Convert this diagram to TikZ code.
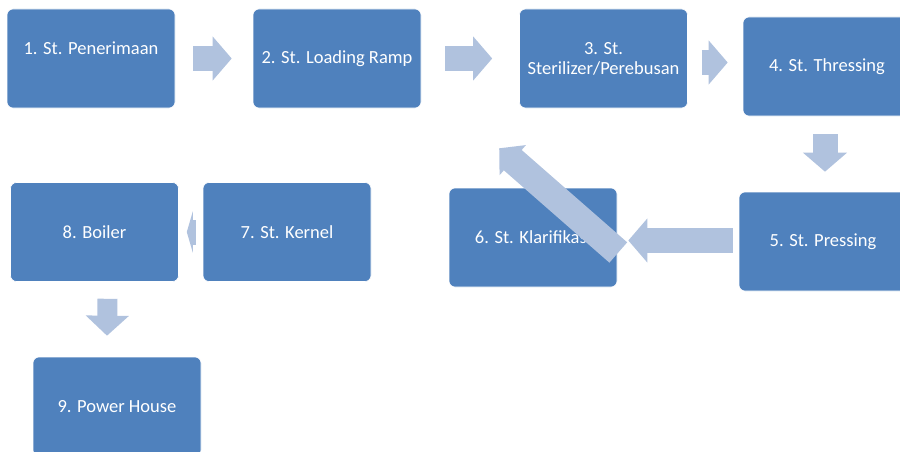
\documentclass[tikz,border=0pt]{standalone}
\usepackage{fontspec}
\setmainfont{Carlito}
\usetikzlibrary{arrows.meta}
\definecolor{boxblue}{RGB}{79,129,189}
\definecolor{arrowblue}{RGB}{176,194,222}

\begin{document}
\begin{tikzpicture}[x=1pt, y=-1pt]
    \tikzstyle{box}=[rectangle, rounded corners=6pt, fill=boxblue, draw=white, line width=0.6pt, minimum width=168pt, minimum height=99pt, align=center, text=white, font=\fontsize{18.5}{20}\selectfont, inner sep=2pt]
    \tikzstyle{flow}=[arrowblue, line width=25pt, -{Triangle[width=43pt, length=19pt]}]

    \useasboundingbox (0,0) rectangle (900,452);

    \node[box] (b1) at (91,58.5) {1. St. Penerimaan\\\mbox{}};
    \node[box] (b2) at (337,58.5) {2. St. Loading Ramp};
    \node[box] (b3) at (603.5,58.5) {3. St.\\Sterilizer/Perebusan};
    \node[box] (b4) at (827,66.5) {4. St. Thressing};
    \node[box] (b5) at (823,241.5) {5. St. Pressing};
    \node[box] (b6) at (533,237.5) {6. St. Klarifikasi};
    \node[box] (b7) at (287,232) {7. St. Kernel};
    \node[box] (b8) at (94.5,232) {8. Boiler};
    \node[box] (b9) at (117,406.5) {9. Power House};

    \draw[flow] ([xshift=18]b1.east) -- ([xshift=-21]b2.west);
    \draw[flow] ([xshift=24]b2.east) -- ([xshift=-27]b3.west);
    \draw[flow] ([shift={(14,4)}]b3.east) -- ([shift={(-15,-4)}]b4.west);
    \draw[flow] ([shift={(-2,18)}]b4.south) -- ([shift={(2,-20)}]b5.north);
    \draw[flow] ([shift={(-6,-1)}]b5.west) -- ([shift={(11,3)}]b6.east);
    \draw[flow, line width=27pt, -{Triangle[width=39pt, length=18pt]}] ([shift={(1,15)}]b6.east) -- ([shift={(-20,40)}]b3.south west);
    \draw[flow, -{Triangle[width=41pt, length=6pt]}] ([xshift=-7]b7.west) -- ([xshift=8]b8.east);
    \draw[flow, line width=20pt, -{Triangle[width=42pt, length=20pt]}] ([shift={(13,17)}]b8.south) -- ([shift={(-10,-21)}]b9.north);
\end{tikzpicture}
\end{document}
